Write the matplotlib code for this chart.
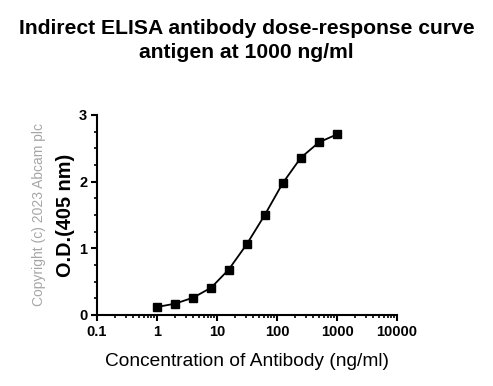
import matplotlib
matplotlib.use("Agg")
import matplotlib.pyplot as plt
from matplotlib.ticker import LogLocator, NullFormatter, MultipleLocator

plt.rcParams['font.family'] = ['Liberation Sans', 'DejaVu Sans']

# data
conc = [1, 2, 4, 8, 15.625, 31.25, 62.5, 125, 250, 500, 1000]
od = [0.12, 0.17, 0.26, 0.41, 0.68, 1.06, 1.50, 1.98, 2.36, 2.59, 2.71]
xticks = [0.1, 1, 10, 100, 1000, 10000]
xtick_labels = ['0.1', '1', '10', '100', '1000', '10000']
yticks = [0, 1, 2, 3]

fig = plt.figure(figsize=(4.93, 3.86), dpi=100)
ax = fig.add_axes([97 / 493, 1 - 315 / 386, 300 / 493, 200 / 386])

ax.plot(conc, od, color='black', lw=1.3, marker='s', ms=6, mec='black', mfc='black')

ax.set_xscale('log')
ax.set_xlim(0.1, 10000)
ax.set_ylim(0, 3)

ax.set_xticks(xticks)
ax.set_xticklabels(xtick_labels)
ax.xaxis.set_minor_locator(LogLocator(base=10, subs=range(2, 10), numticks=20))
ax.xaxis.set_minor_formatter(NullFormatter())
ax.set_yticks(yticks)
ax.yaxis.set_minor_locator(MultipleLocator(0.25))

for s in ['top', 'right']:
    ax.spines[s].set_visible(False)
for s in ['left', 'bottom']:
    ax.spines[s].set_linewidth(1.5)

ax.tick_params(which='major', length=4, width=1.5, labelsize=10.5, pad=3)
ax.tick_params(which='minor', length=2.5, width=1.2)
for lbl in ax.get_xticklabels() + ax.get_yticklabels():
    lbl.set_fontweight('bold')

ax.set_xlabel('Concentration of Antibody (ng/ml)', fontsize=13.8, labelpad=10)
ax.set_ylabel('O.D.(405 nm)', fontsize=14.3, fontweight='bold', labelpad=3)

fig.text(0.5, 1 - 28 / 386, 'Indirect ELISA antibody dose-response curve',
         ha='center', va='center', fontsize=15.2, fontweight='bold')
fig.text(0.5, 1 - 53 / 386, 'antigen at 1000 ng/ml',
         ha='center', va='center', fontsize=15.2, fontweight='bold')

fig.text(39 / 493, 1 - 214 / 386, 'Copyright (c) 2023 Abcam plc', rotation=90,
         ha='center', va='center', fontsize=10, color='#a6a6a6')

fig.savefig('out.png', dpi=100)
